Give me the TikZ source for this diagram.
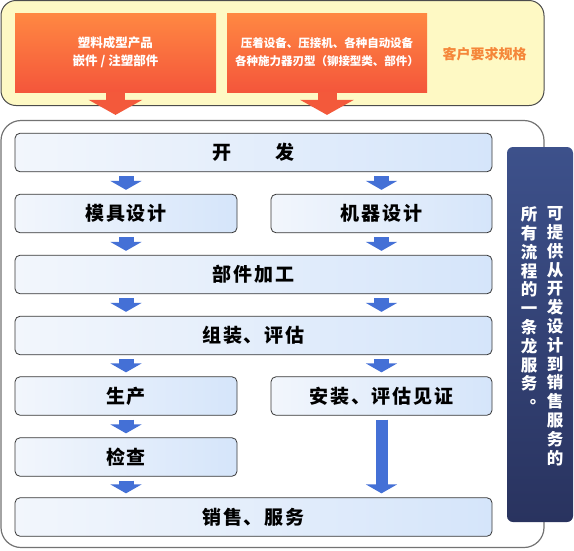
\documentclass[tikz,border=0pt]{standalone}
\usepackage{fontspec}
\setmainfont{Noto Sans CJK SC}
\usetikzlibrary{arrows.meta}
\definecolor{reqYellow}{HTML}{FEF9C4}
\definecolor{reqOrangeTop}{HTML}{FF8842}
\definecolor{reqOrangeBot}{HTML}{F4563B}
\definecolor{reqArrow}{HTML}{F3593B}
\definecolor{reqText}{HTML}{F5873A}
\definecolor{stageLeft}{HTML}{F2F6FC}
\definecolor{stageRight}{HTML}{D5E5FA}
\definecolor{flowBlue}{HTML}{4470D6}
\definecolor{sideTop}{HTML}{3D518B}
\definecolor{sideBot}{HTML}{29335F}
\tikzset{
  frame box/.style={rounded corners=15pt,line width=1pt,inner sep=0pt},
  req box/.style={top color=reqOrangeTop,bottom color=reqOrangeBot,text=white,
    minimum height=79pt,inner sep=0pt,align=center,
    font=\fontsize{12.5}{18}\selectfont\bfseries},
  stage box/.style={rounded corners=5pt,draw=black!78,line width=0.8pt,
    left color=stageLeft,right color=stageRight,minimum height=38.5pt,inner sep=0pt,
    font=\fontsize{19}{21}\selectfont\bfseries\addfontfeatures{LetterSpace=10}},
  side text/.style={text=white,inner sep=0pt,anchor=north,align=center,
    font=\fontsize{16.5}{18.8}\selectfont\bfseries},
  step arrow/.style={draw=flowBlue,line width=15pt,
    -{Triangle[width=31pt,length=9pt]},shorten <=4pt,shorten >=4pt},
  long arrow/.style={draw=flowBlue,line width=12pt,
    -{Triangle[width=31pt,length=9pt]},shorten <=4pt,shorten >=4pt},
  req arrow/.style={draw=reqArrow,line width=19pt,
    -{Triangle[width=53pt,length=15pt]},shorten >=5pt}
}
\newcommand{\vstop}{\makebox[1em][l]{\hspace{0.55em}\raisebox{0.3em}{。}}}

\begin{document}
\begin{tikzpicture}[x=1pt,y=-1pt]
  \useasboundingbox (0,0) rectangle (574,550);
  % customer requirements
  \node[frame box,draw=black!70,fill=reqYellow,minimum width=543pt,minimum height=105pt]
    (req) at (272.5,53) {};
  \node[req box,minimum width=201pt] (plastic) at (115.5,52.5)
    {塑料成型产品\\嵌件 / 注塑部件};
  \node[req box,minimum width=200pt,font=\fontsize{11.5}{18}\selectfont\bfseries]
    (machine) at (327,52.5)
    {压着设备、压接机、各种自动设备\\各种施力器刃型（铆接型类、部件）};
  \node[text=reqText,font=\fontsize{14}{16}\selectfont\bfseries] (reqlabel) at (484.5,54)
    {客户要求规格};
  % process frame
  \node[frame box,rounded corners=20pt,draw=black!55,line width=1.2pt,fill=white,
    minimum width=543pt,minimum height=427pt] (flow) at (272.5,334) {};
  \draw[req arrow] (plastic.south) -- (plastic.south |- flow.north);
  \draw[req arrow] (machine.south) -- (machine.south |- flow.north);
  \node[rounded corners=6pt,top color=sideTop,bottom color=sideBot,
    minimum width=66pt,minimum height=375pt,inner sep=0pt] (side) at (540,334.5) {};
  \node[side text] (sideR) at (555,206.5)
    {可\\提\\供\\从\\开\\发\\设\\计\\到\\销\\售\\服\\务\\的};
  \node[side text] (sideL) at (529,206.5)
    {所\\有\\流\\程\\的\\一\\条\\龙\\服\\务\\\vstop};
  % stages
  \node[stage box,minimum width=477pt] (dev) at (253.5,152.5) {开　　发};
  \node[stage box,minimum width=222pt] (mold) at (126,213.5) {模具设计};
  \node[stage box,minimum width=221pt] (mach) at (381.5,213.5) {机器设计};
  \node[stage box,minimum width=477pt] (part) at (253.5,274.5) {部件加工};
  \node[stage box,minimum width=477pt] (assy) at (253.5,335.5) {组装、评估};
  \node[stage box,minimum width=222pt] (prod) at (126,396) {生产};
  \node[stage box,minimum width=221pt] (inst) at (381.5,396) {安装、评估见证};
  \node[stage box,minimum width=222pt] (check) at (126,457) {检查};
  \node[stage box,minimum width=477pt] (sales) at (253.5,517) {销售、服务};
  \draw[step arrow] (dev.south -| mold.north) -- (mold.north);
  \draw[step arrow] (dev.south -| mach.north) -- (mach.north);
  \draw[step arrow] (mold.south) -- (part.north -| mold.south);
  \draw[step arrow] (mach.south) -- (part.north -| mach.south);
  \draw[step arrow] (part.south -| mold.south) -- (assy.north -| mold.south);
  \draw[step arrow] (part.south -| mach.south) -- (assy.north -| mach.south);
  \draw[step arrow] (assy.south -| prod.north) -- (prod.north);
  \draw[step arrow] (assy.south -| inst.north) -- (inst.north);
  \draw[step arrow] (prod.south) -- (check.north);
  \draw[step arrow] (check.south) -- (sales.north -| check.south);
  \draw[long arrow] (inst.south) -- (sales.north -| inst.south);
\end{tikzpicture}
\end{document}
